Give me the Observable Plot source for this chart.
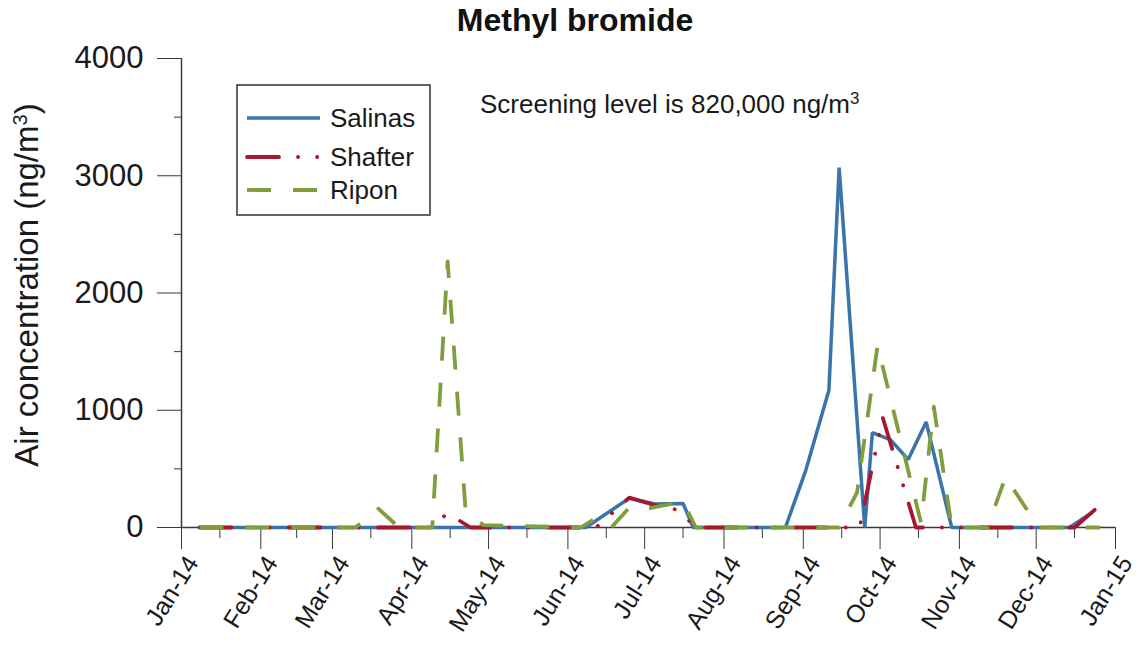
<!DOCTYPE html>
<html><head><meta charset="utf-8">
<script src="https://cdn.jsdelivr.net/npm/d3@7"></script>
<script src="https://cdn.jsdelivr.net/npm/@observablehq/plot@0.6"></script>
<style>
html,body{margin:0;padding:0;background:#fff;}
#wrap{position:relative;width:1142px;height:649px;font-family:"Liberation Sans",Arial,sans-serif;}
#overlay{position:absolute;left:0;top:0;pointer-events:none;}
</style></head><body>
<div id="wrap"></div>
<script>
// ---- data ----
const salinasDates  = ["2014-01-08","2014-06-08","2014-06-25","2014-07-05","2014-07-16","2014-07-20","2014-08-25","2014-09-02","2014-09-11","2014-09-15","2014-09-25","2014-09-28","2014-10-05","2014-10-12","2014-10-19","2014-10-29","2014-12-14","2014-12-23"];
const salinasValues = [0,0,250,200,205,0,0,490,1170,3070,0,810,750,580,900,0,0,130];

const shafterDates  = ["2014-01-08","2014-04-08","2014-04-15","2014-04-24","2014-06-12","2014-06-25","2014-07-05","2014-07-14","2014-07-21","2014-09-23","2014-10-02","2014-10-15","2014-12-16","2014-12-27"];
const shafterValues = [0,0,120,0,0,255,190,150,0,0,940,0,0,210];

const riponDates  = ["2014-01-08","2014-03-10","2014-03-19","2014-03-27","2014-04-09","2014-04-15","2014-04-22","2014-04-29","2014-06-06","2014-06-12","2014-06-18","2014-06-25","2014-07-03","2014-07-16","2014-07-21","2014-09-15","2014-09-22","2014-09-30","2014-10-17","2014-10-22","2014-10-29","2014-11-12","2014-11-19","2014-12-02","2014-12-26"];
const riponValues = [0,0,160,0,0,2270,150,20,0,80,0,170,165,220,0,0,300,1550,40,1030,0,0,430,0,0];

const seriesNames = ["Salinas","Shafter","Ripon"];
const yTicks = [0,1000,2000,3000,4000];
const yMinorTicks = [500,1500,2500,3500];
const xTickDates = ["2014-01-01","2014-02-01","2014-03-01","2014-04-01","2014-05-01","2014-06-01","2014-07-01","2014-08-01","2014-09-01","2014-10-01","2014-11-01","2014-12-01","2015-01-01"];
const xTickLabels = ["Jan-14","Feb-14","Mar-14","Apr-14","May-14","Jun-14","Jul-14","Aug-14","Sep-14","Oct-14","Nov-14","Dec-14","Jan-15"];
const xMinorDates = ["2014-01-16","2014-02-15","2014-03-16","2014-04-16","2014-05-16","2014-06-16","2014-07-16","2014-08-16","2014-09-16","2014-10-16","2014-11-16","2014-12-16"];

// ---- styles ----
const colors = {Salinas:"#3a74ab", Shafter:"#a8172f", Ripon:"#809d40"};
const dashes = {Salinas:null, Shafter:"32,19,0.1,19,0.1,19", Ripon:"24,22"};
const widths = {Salinas:3.5, Shafter:3.8, Ripon:3.8};

const toRows = (name, dates, values) => dates.map((d,i)=>({series:name, date:new Date(d), value:values[i]}));
const salinas = toRows("Salinas", salinasDates, salinasValues);
const shafter = toRows("Shafter", shafterDates, shafterValues);
const ripon = toRows("Ripon", riponDates, riponValues);
const xTicks = xTickDates.map((d,i)=>({date:new Date(d), label:xTickLabels[i]}));
const xMinor = xMinorDates.map(d=>new Date(d));

const axisColor = "#3a3a3a";
const chart = Plot.plot({
  width: 1142, height: 649,
  marginTop: 58, marginBottom: 122, marginLeft: 181, marginRight: 27,
  style: {fontFamily: '"Liberation Sans", Arial, sans-serif', background: "white", color: "#1a1a1a"},
  x: {type: "utc", domain: [new Date("2014-01-01"), new Date("2015-01-01")]},
  y: {domain: [0, 4000]},
  marks: [
    Plot.axisY({ticks: yTicks, tickSize: 24, tickPadding: 14, fontSize: 31, tickFormat: d => String(d), label: null, stroke: axisColor, fill: "#1a1a1a"}),
    Plot.axisY({ticks: yMinorTicks, tickSize: 7, tickFormat: () => "", label: null, stroke: axisColor}),
    Plot.axisX({ticks: xTicks.map(d=>d.date), tickSize: 22, tickFormat: () => "", label: null, stroke: axisColor}),
    Plot.axisX({ticks: xMinor, tickSize: 11, tickFormat: () => "", label: null, stroke: axisColor}),
    Plot.text(xTicks, {x: "date", text: "label", frameAnchor: "bottom", rotate: -58, textAnchor: "end", lineAnchor: "middle", dx: 11, dy: 31, fontSize: 25, fill: "#1a1a1a"}),
    Plot.ruleY([0], {stroke: axisColor, strokeWidth: 1.5}),
    Plot.ruleX([new Date("2014-01-01")], {stroke: axisColor, strokeWidth: 1.5}),
    Plot.line(salinas, {x: "date", y: "value", stroke: colors.Salinas, strokeWidth: widths.Salinas, strokeLinejoin: "miter", strokeLinecap: "butt"}),
    Plot.line(shafter, {x: "date", y: "value", stroke: colors.Shafter, strokeWidth: widths.Shafter, strokeDasharray: dashes.Shafter, strokeLinecap: "round"}),
    Plot.line(ripon, {x: "date", y: "value", stroke: colors.Ripon, strokeWidth: widths.Ripon, strokeDasharray: dashes.Ripon, strokeLinecap: "butt"})
  ]
});
const wrap = document.getElementById("wrap");
wrap.appendChild(chart);

// ---- overlay: title, y label, annotation, legend ----
const ns = "http://www.w3.org/2000/svg";
const ov = document.createElementNS(ns, "svg");
ov.setAttribute("id","overlay"); ov.setAttribute("width",1142); ov.setAttribute("height",649);
ov.setAttribute("font-family",'"Liberation Sans", Arial, sans-serif');
function el(tag, attrs, parent){ const e=document.createElementNS(ns,tag); for(const k in attrs) e.setAttribute(k,attrs[k]); (parent||ov).appendChild(e); return e; }
function txt(attrs, parts, parent){ const t=el("text",attrs,parent); parts.forEach(p=>{ if(typeof p==="string"){ t.appendChild(document.createTextNode(p)); } else { const s=el("tspan",{"baseline-shift":"super","font-size":p.size},t); s.textContent=p.sup; } }); return t; }

txt({x:575, y:31, "text-anchor":"middle", "font-size":32, "font-weight":"bold", fill:"#111"}, ["Methyl bromide"]);
txt({transform:"translate(38,285) rotate(-90)", "text-anchor":"middle", "font-size":33, fill:"#1a1a1a"}, ["Air concentration (ng/m", {sup:"3", size:20}, ")"]);
txt({x:480, y:113, "font-size":26, fill:"#1a1a1a"}, ["Screening level is 820,000 ng/m", {sup:"3", size:17}]);

el("rect",{x:237, y:85, width:193, height:130, fill:"white", stroke:"#333", "stroke-width":1.5});
const legY = [118,157,190];
seriesNames.forEach((s,i)=>{
  const a = {x1:247, x2:320, y1:legY[i], y2:legY[i], stroke:colors[s], "stroke-width": widths[s]};
  if (dashes[s]) a["stroke-dasharray"] = dashes[s];
  a["stroke-linecap"] = s==="Shafter" ? "round" : "butt";
  el("line", a);
  txt({x:330, y:legY[i]+9, "font-size":26, fill:"#1a1a1a"}, [s]);
});
wrap.appendChild(ov);
</script>
</body></html>
